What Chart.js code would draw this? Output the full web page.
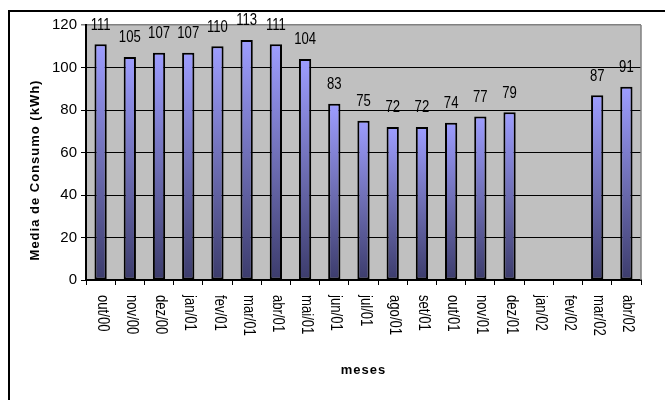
<!DOCTYPE html>
<html>
<head>
<meta charset="utf-8">
<script src="https://cdn.jsdelivr.net/npm/chart.js@4/dist/chart.umd.min.js"></script>
<style>
  html, body { margin: 0; padding: 0; background: #fff; }
  #wrap { width: 665px; height: 400px; }
</style>
</head>
<body>
<div id="wrap"><canvas id="consumoChart" width="665" height="400"></canvas></div>
<script>
const meses = ['out/00', 'nov/00', 'dez/00', 'jan/01', 'fev/01', 'mar/01', 'abr/01', 'mai/01', 'jun/01', 'jul/01',
  'ago/01', 'set/01', 'out/01', 'nov/01', 'dez/01', 'jan/02', 'fev/02', 'mar/02', 'abr/02'];
const consumo = [111, 105, 107, 107, 110, 113, 111, 104, 83, 75, 72, 72, 74, 77, 79, null, null, 87, 91];
const yTicks = [0, 20, 40, 60, 80, 100, 120];

const FONT = '"Liberation Sans", Arial, sans-serif';
const SQUEEZE = 0.82; // text in the original looks condensed

// draw condensed text (narrow font is not installed)
function narrowText(ctx, text, x, y, angle) {
  ctx.save();
  ctx.translate(x, y);
  if (angle) ctx.rotate(angle);
  ctx.scale(SQUEEZE, 1);
  ctx.fillText(text, 0, 0);
  ctx.restore();
}

// frame, grey plot background, custom labels
const excelLook = {
  id: 'excelLook',
  beforeDraw(chart) {
    const ctx = chart.ctx;
    const a = chart.chartArea;
    ctx.save();
    ctx.fillStyle = '#fff';
    ctx.fillRect(0, 0, chart.width, chart.height);
    ctx.strokeStyle = '#000';
    ctx.lineWidth = 2;
    ctx.strokeRect(9, 11, chart.width + 20, chart.height + 20);
    ctx.fillStyle = '#c0c0c0';
    ctx.fillRect(a.left, a.top, a.right - a.left, a.bottom - a.top);
    ctx.restore();
  },
  afterDraw(chart) {
    const ctx = chart.ctx;
    const a = chart.chartArea;
    const x = chart.scales.x;
    ctx.save();
    // right plot border
    ctx.strokeStyle = '#808080';
    ctx.lineWidth = 1.5;
    ctx.beginPath();
    ctx.moveTo(a.right, a.top);
    ctx.lineTo(a.right, a.bottom);
    ctx.stroke();

    // month labels, rotated reading downwards
    ctx.fillStyle = '#000';
    ctx.font = '16px ' + FONT;
    ctx.textAlign = 'left';
    ctx.textBaseline = 'middle';
    meses.forEach((m, i) => {
      narrowText(ctx, m, x.getPixelForValue(i) + 1.5, a.bottom + 15, Math.PI / 2);
    });

    // value labels
    ctx.textAlign = 'center';
    const meta = chart.getDatasetMeta(0);
    meta.data.forEach((bar, i) => {
      if (consumo[i] === null) return;
      narrowText(ctx, String(consumo[i]), bar.x, bar.y - 19);
    });

    // axis titles
    ctx.font = 'bold 13px ' + FONT;
    ctx.letterSpacing = '1px';
    ctx.fillText('meses', (a.left + a.right) / 2, 370);
    ctx.save();
    ctx.translate(35, 170);
    ctx.rotate(-Math.PI / 2);
    ctx.fillText('Media de Consumo (kWh)', 0, 0);
    ctx.restore();
    ctx.restore();
  }
};

function barGradient(context) {
  const chart = context.chart;
  if (!chart.chartArea || context.raw === null || context.raw === undefined) return '#9999ff';
  const y = chart.scales.y;
  const top = y.getPixelForValue(context.raw);
  const bottom = y.getPixelForValue(0);
  const g = chart.ctx.createLinearGradient(0, top, 0, bottom);
  g.addColorStop(0, '#9d9dff');
  g.addColorStop(0.5, '#6e6eb4');
  g.addColorStop(1, '#3c3c6c');
  return g;
}

new Chart(document.getElementById('consumoChart'), {
  type: 'bar',
  data: {
    labels: meses,
    datasets: [{
      label: 'Media de Consumo (kWh)',
      data: consumo,
      backgroundColor: barGradient,
      borderColor: '#000',
      borderWidth: 2,
      borderSkipped: false,
      barPercentage: 0.42,
      categoryPercentage: 1
    }]
  },
  options: {
    responsive: false,
    animation: false,
    layout: { padding: { top: 25, right: 24, left: 0, bottom: 0 } },
    plugins: {
      legend: { display: false },
      tooltip: { enabled: false }
    },
    scales: {
      x: {
        grid: { drawOnChartArea: false, drawTicks: true, tickLength: 5, color: '#000', lineWidth: 1 },
        border: { color: '#000', width: 2 },
        ticks: { display: false },
        afterFit(scale) { scale.height = 120; }
      },
      y: {
        min: 0,
        max: 120,
        afterBuildTicks(scale) { scale.ticks = yTicks.map(v => ({ value: v })); },
        grid: {
          color: ctx => (ctx.tick && ctx.tick.value === 120 ? '#808080' : '#000'),
          lineWidth: ctx => (ctx.tick && ctx.tick.value === 120 ? 1.5 : 1),
          tickLength: 5
        },
        border: { color: '#000', width: 2 },
        ticks: { color: '#000', font: { family: FONT, size: 15 }, padding: 4 },
        afterFit(scale) { scale.width = 86; }
      }
    }
  },
  plugins: [excelLook]
});
</script>
</body>
</html>
